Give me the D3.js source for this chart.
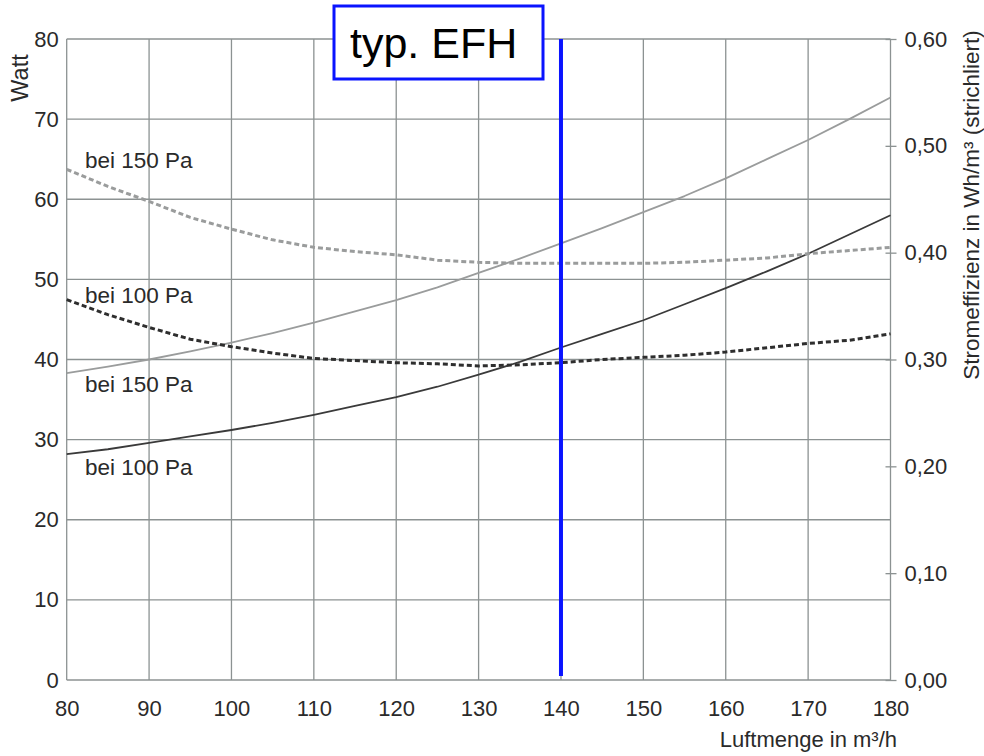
<!DOCTYPE html>
<html>
<head>
<meta charset="utf-8">
<script src="https://cdn.jsdelivr.net/npm/d3@7"></script>
<style>
  body { margin: 0; background: #fff; }
  svg { display: block; font-family: "Liberation Sans", Arial, Helvetica, sans-serif; }
</style>
</head>
<body>
<svg id="chart" width="984" height="756"></svg>
<script>
// Air flow (m³/h) sample points
const airflow = [80, 85, 90, 95, 100, 105, 110, 115, 120, 125, 130, 135, 140, 145, 150, 155, 160, 165, 170, 175, 180];
// Power draw in Watt (solid lines, left axis)
const power150 = [38.3, 39.1, 40.0, 41.0, 42.1, 43.3, 44.6, 46.0, 47.4, 49.0, 50.8, 52.6, 54.5, 56.4, 58.4, 60.4, 62.6, 65.0, 67.4, 70.0, 72.7];
const power100 = [28.2, 28.8, 29.6, 30.4, 31.2, 32.1, 33.1, 34.2, 35.3, 36.6, 38.1, 39.7, 41.5, 43.2, 44.9, 46.9, 48.9, 51.0, 53.2, 55.6, 58.0];
// Specific power in Wh/m³ (dashed lines, right axis)
const eff150 = [0.478, 0.462, 0.448, 0.433, 0.422, 0.412, 0.405, 0.401, 0.398, 0.393, 0.391, 0.390, 0.390, 0.390, 0.390, 0.391, 0.393, 0.395, 0.399, 0.402, 0.405];
const eff100 = [0.356, 0.342, 0.330, 0.319, 0.312, 0.306, 0.301, 0.299, 0.297, 0.296, 0.294, 0.295, 0.297, 0.300, 0.302, 0.304, 0.307, 0.311, 0.315, 0.318, 0.324];

const xTicks = [80, 90, 100, 110, 120, 130, 140, 150, 160, 170, 180];
const yTicks = [0, 10, 20, 30, 40, 50, 60, 70, 80];
const y2Ticks = [0, 0.1, 0.2, 0.3, 0.4, 0.5, 0.6];
const marker = 140;

const svg = d3.select("#chart");
const m = { left: 66.7, right: 890.5, top: 39, bottom: 680 };

const x = d3.scaleLinear().domain([80, 180]).range([m.left, m.right]);
const y = d3.scaleLinear().domain([0, 80]).range([m.bottom, m.top]);
const y2 = d3.scaleLinear().domain([0, 0.6]).range([m.bottom, m.top]);

const gridColor = "#8c9292";
const textColor = "#2a2a2a";
const font = "Liberation Sans, Arial, sans-serif";

// Grid
const grid = svg.append("g");
grid.selectAll(".vg").data(xTicks).join("line")
  .attr("x1", d => x(d)).attr("x2", d => x(d))
  .attr("y1", m.top).attr("y2", m.bottom)
  .attr("stroke", gridColor).attr("stroke-width", 1.3);
grid.selectAll(".hg").data(yTicks).join("line")
  .attr("x1", m.left).attr("x2", m.right)
  .attr("y1", d => y(d)).attr("y2", d => y(d))
  .attr("stroke", gridColor).attr("stroke-width", 1.3);

// Left axis labels
const yAxis = d3.axisLeft(y).tickValues(yTicks).tickSize(0).tickPadding(8);
const gy = svg.append("g").attr("transform", `translate(${m.left},0)`).call(yAxis);
gy.select(".domain").remove();
gy.selectAll("text").attr("font-size", 22).attr("fill", textColor).attr("font-family", font);

// Bottom axis labels
const xAxis = d3.axisBottom(x).tickValues(xTicks).tickSize(0).tickPadding(20);
const gx = svg.append("g").attr("transform", `translate(0,${m.bottom})`).call(xAxis);
gx.select(".domain").remove();
gx.selectAll("text").attr("font-size", 22).attr("fill", textColor).attr("font-family", font);

// Right axis with short ticks crossing the frame
const fmt = d => d3.format(".2f")(d).replace(".", ",");
const y2Axis = d3.axisRight(y2).tickValues(y2Ticks).tickSize(6).tickPadding(8).tickFormat(fmt);
const gy2 = svg.append("g").attr("transform", `translate(${m.right},0)`).call(y2Axis);
gy2.select(".domain").remove();
gy2.selectAll("line").attr("stroke", gridColor).attr("stroke-width", 1.3).attr("x1", -5);
gy2.selectAll("text").attr("font-size", 22).attr("fill", textColor).attr("font-family", font);

// Axis titles
svg.append("text").attr("transform", "translate(28,78) rotate(-90)")
  .attr("text-anchor", "middle").attr("font-size", 23.5).attr("fill", textColor).text("Watt");
svg.append("text").attr("transform", "translate(979,205) rotate(-90)")
  .attr("text-anchor", "middle").attr("font-size", 22.5).attr("fill", textColor)
  .text("Stromeffizienz in Wh/m³ (strichliert)");
svg.append("text").attr("x", 897).attr("y", 747)
  .attr("text-anchor", "end").attr("font-size", 22).attr("fill", textColor)
  .text("Luftmenge in m³/h");

// Series lines
const linePower = vals => d3.line().x((d, i) => x(airflow[i])).y(d => y(d))(vals);
const lineEff = vals => d3.line().x((d, i) => x(airflow[i])).y(d => y2(d))(vals);

svg.append("path").attr("d", linePower(power150)).attr("fill", "none")
  .attr("stroke", "#9a9c9c").attr("stroke-width", 1.8).attr("stroke-linejoin", "round");
svg.append("path").attr("d", linePower(power100)).attr("fill", "none")
  .attr("stroke", "#3a3a3a").attr("stroke-width", 1.8).attr("stroke-linejoin", "round");
svg.append("path").attr("d", lineEff(eff150)).attr("fill", "none")
  .attr("stroke", "#9a9c9c").attr("stroke-width", 3).attr("stroke-dasharray", "5,3");
svg.append("path").attr("d", lineEff(eff100)).attr("fill", "none")
  .attr("stroke", "#2e2e2e").attr("stroke-width", 3).attr("stroke-dasharray", "5,3");

// Series labels
const labels = [
  { t: "bei 150 Pa", yv: 168 },
  { t: "bei 100 Pa", yv: 303 },
  { t: "bei 150 Pa", yv: 392 },
  { t: "bei 100 Pa", yv: 475 }
];
svg.selectAll(".lab").data(labels).join("text")
  .attr("x", 85).attr("y", d => d.yv)
  .attr("font-size", 22.5).attr("fill", textColor).text(d => d.t);

// Marker line at typical flow
svg.append("line")
  .attr("x1", x(marker)).attr("x2", x(marker))
  .attr("y1", m.top).attr("y2", 676)
  .attr("stroke", "#0a14ff").attr("stroke-width", 4);

// Title box
svg.append("rect").attr("x", 334).attr("y", 6).attr("width", 209).attr("height", 73)
  .attr("fill", "#fff").attr("stroke", "#0a14ff").attr("stroke-width", 3);
svg.append("text").attr("x", 350).attr("y", 58)
  .attr("font-size", 43).attr("fill", "#000").text("typ. EFH");
</script>
</body>
</html>
